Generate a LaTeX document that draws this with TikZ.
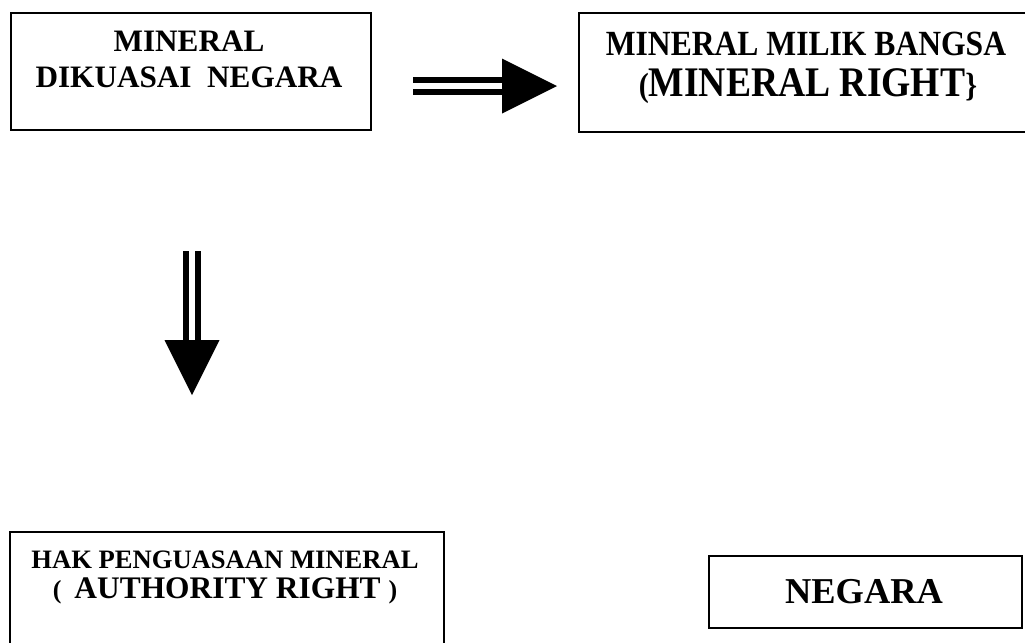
\documentclass[tikz,border=0pt]{standalone}
\usepackage{fontspec}
\setmainfont{Liberation Serif}
\usetikzlibrary{calc}
\tikzset{
  box/.style={draw, line width=1pt, rectangle, inner sep=0pt, anchor=north west},
  lbl/.style={anchor=base, inner sep=0pt, font=\bfseries},
  twin/.style={double, line width=3pt, double distance=3.25pt},
}
\newcommand{\sz}[1]{\fontsize{#1}{#1}\selectfont}

\begin{document}
\begin{tikzpicture}[x=0.5pt, y=-0.5pt]
\useasboundingbox (0,0) rectangle (1025,643);
\node[box, minimum width=180pt, minimum height=58.5pt] (kuasa) at (10,12) {}; % dikuasai negara
\node[lbl] (kuasa1) at (189,51) {\sz{15.6}MINERAL};
\node[lbl] (kuasa2) at (189,87) {\sz{15.6}DIKUASAI\ \ NEGARA};
\node[box, minimum width=228pt, minimum height=59.5pt] (milik) at (578,12) {}; % milik bangsa
\node[lbl] (milik1) at (806,55) {\scalebox{1}[1.12]{\sz{15.8}MINERAL MILIK BANGSA}};
\node[lbl] (milik2) at (808,96) {\scalebox{1}[1.12]{\sz{15}(\sz{18.8}MINERAL RIGHT\sz{15}\}}};
\node[box, minimum width=217pt, minimum height=66pt] (hak) at (9,531) {}; % authority right
\node[lbl] (hak1) at (225,568) {\sz{13.3}HAK PENGUASAAN MINERAL};
\node[lbl] (hak2) at (225,598) {\sz{13}(\ \ \sz{15.7}AUTHORITY RIGHT \sz{13})};
\node[box, minimum width=156.5pt, minimum height=36pt] (negara) at (708,555) {}; % negara
\node[lbl] (negara1) at (864,603) {\sz{18.2}NEGARA};
\coordinate (r0) at (413,86);
\coordinate (r1) at (502,86);
\coordinate (r2) at (557,86);
\draw[twin] (r0) -- (r1); % kanan
\fill ($(r1)+(0,-27.5)$) -- (r2) -- ($(r1)+(0,27.5)$) -- cycle;
\coordinate (d0) at (192,251);
\coordinate (d1) at (192,340);
\coordinate (d2) at (192,395);
\draw[twin] (d0) -- (d1); % bawah
\fill ($(d1)+(-27.5,0)$) -- (d2) -- ($(d1)+(27.5,0)$) -- cycle;
\end{tikzpicture}
\end{document}
